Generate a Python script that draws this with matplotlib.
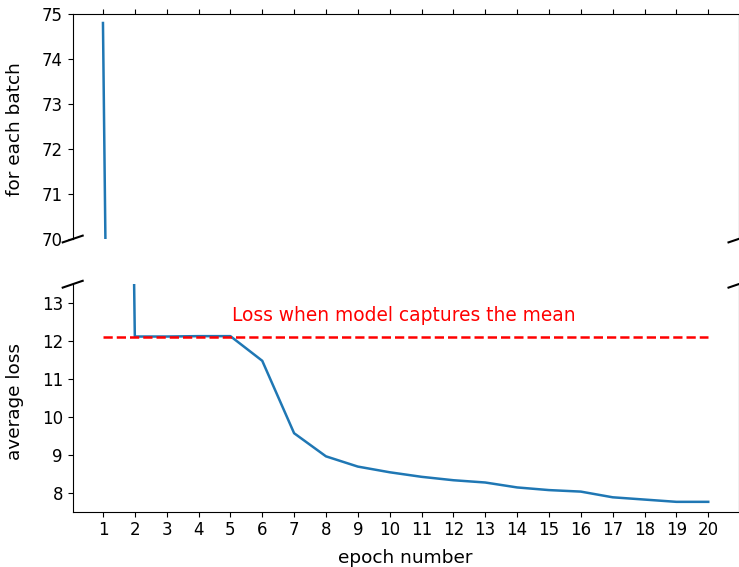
import matplotlib
matplotlib.use("Agg")
import matplotlib.pyplot as plt

epochs = list(range(1, 21))
avg_loss = [74.8, 12.12, 12.12, 12.13, 12.13, 11.48, 9.57, 8.96, 8.69, 8.54,
            8.42, 8.33, 8.27, 8.14, 8.07, 8.03, 7.88, 7.82, 7.76, 7.76]
mean_loss = 12.12
annot_text = "Loss when model captures the mean"

plt.rcParams['font.size'] = 12
W, H = 739, 567
fig = plt.figure(figsize=(W / 100, H / 100), dpi=100)

left = 72.7 / W
right = 738.5 / W
ax_top = fig.add_axes([left, 1 - 239 / H, right - left, 225 / H])
ax_bot = fig.add_axes([left, 1 - 511.7 / H, right - left, 227.5 / H])

for ax in (ax_top, ax_bot):
    ax.plot(epochs, avg_loss, color='#1f77b4', lw=1.8)
    ax.plot(epochs, [mean_loss] * len(epochs), 'r--', lw=1.8)
    ax.set_xlim(0.05, 20.95)
    ax.set_xticks(epochs)

ax_top.set_ylim(70, 75)
ax_bot.set_ylim(7.5, 13.5)

ax_top.spines['bottom'].set_visible(False)
ax_bot.spines['top'].set_visible(False)
ax_top.xaxis.tick_top()
ax_top.tick_params(labeltop=False)
ax_bot.xaxis.tick_bottom()

ax_bot.text(5.05, 12.52, annot_text, color='red', fontsize=13.4)

lab_fs = 13.3
ax_top.set_ylabel("for each batch", fontsize=lab_fs)
ax_bot.set_ylabel("average loss", fontsize=lab_fs)
ax_bot.set_xlabel("epoch number", fontsize=lab_fs)
ax_top.yaxis.set_label_coords(-0.073, 0.49)
ax_bot.yaxis.set_label_coords(-0.073, 0.485)
ax_bot.xaxis.set_label_coords(0.5, -0.165)

d = .015
kw = dict(transform=ax_top.transAxes, color='k', clip_on=False, lw=1.5)
ax_top.plot((-d, +d), (-d, +d), **kw)
ax_top.plot((1 - d, 1 + d), (-d, +d), **kw)
kw.update(transform=ax_bot.transAxes)
ax_bot.plot((-d, +d), (1 - d, 1 + d), **kw)
ax_bot.plot((1 - d, 1 + d), (1 - d, 1 + d), **kw)

fig.savefig("out.png", dpi=100)
